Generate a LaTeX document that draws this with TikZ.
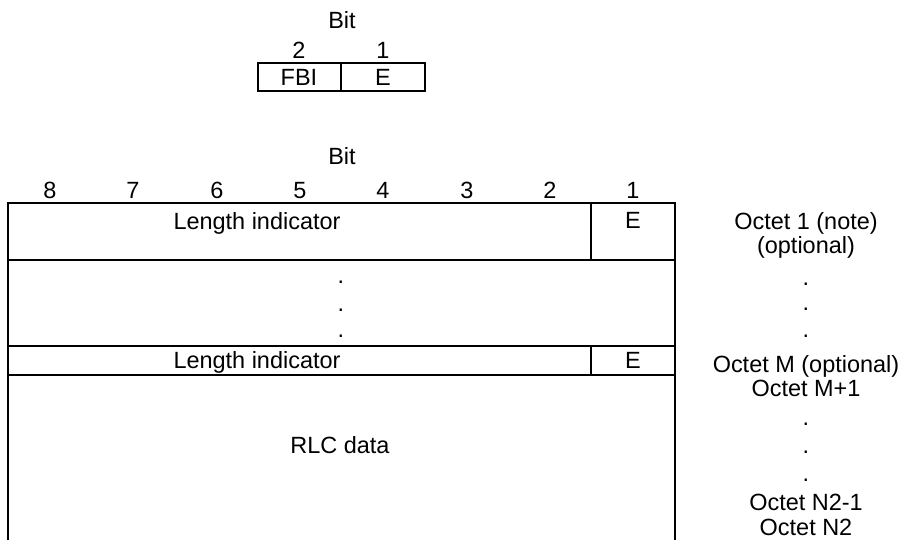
\documentclass[tikz,border=0pt]{standalone}
\usepackage{fontspec}
\setmainfont{Liberation Sans}
\tikzset{
  lbl/.style={font=\fontsize{17.6}{21}\selectfont, inner sep=0pt, text height=12.7pt, text depth=0pt},
  rule/.style={line width=1.5pt}
}
\begin{document}
\begin{tikzpicture}[x=0.75pt,y=0.75pt,yscale=-1,xscale=1]
\useasboundingbox (0,0) rectangle (904,540);
%Shape: Rectangle [small header]
\draw [rule]  (258,63) -- (425,63) -- (425,91) -- (258,91) -- cycle ;
%Straight Lines [small divider]
\draw [rule]  (341,63) -- (341,91) ;
% Text Node
\draw (342,20) node [lbl] (bitS) {Bit};
% Text Node
\draw (299,50) node [lbl] (bitS2) {2};
% Text Node
\draw (383,50) node [lbl] (bitS1) {1};
% Text Node
\draw (299,77) node [lbl] (fbi) {FBI};
% Text Node
\draw (383,77) node [lbl] (eS) {E};

%Shape: Open table [main]
\draw [rule]  (8,540) -- (8,203) -- (675,203) -- (675,540) ;
%Straight Lines [row rules]
\draw [rule]  (8,260) -- (675,260) ;
\draw [rule]  (8,346) -- (675,346) ;
\draw [rule]  (8,375) -- (675,375) ;
%Straight Lines [E column]
\draw [rule]  (591,203) -- (591,260) ;
\draw [rule]  (591,346) -- (591,375) ;

% Text Node
\draw (342,156) node [lbl] (bitM) {Bit};
% Text Node
\draw (50,190) node [lbl] (b8) {8};
\draw (133,190) node [lbl] (b7) {7};
\draw (217,190) node [lbl] (b6) {6};
\draw (300,190) node [lbl] (b5) {5};
\draw (383,190) node [lbl] (b4) {4};
\draw (467,190) node [lbl] (b3) {3};
\draw (550,190) node [lbl] (b2) {2};
\draw (633,190) node [lbl] (b1) {1};

% Text Node
\draw (257,221) node [lbl] (liA) {Length indicator};
\draw (633,220) node [lbl] (eA) {E};
% Text Node
\draw (341,275) node [lbl] (dotA) {.};
\draw (341,303) node [lbl] (dotB) {.};
\draw (341,329) node [lbl] (dotC) {.};
% Text Node
\draw (257,360) node [lbl] (liM) {Length indicator};
\draw (633,360) node [lbl] (eM) {E};
% Text Node
\draw (340,445) node [lbl] (rlc) {RLC data};

% Text Node [octet column]
\draw (806,221) node [lbl] (oct1) {Octet 1 (note)};
\draw (806,245) node [lbl] (opt1) {(optional)};
\draw (806,277) node [lbl] (odotA) {.};
\draw (806,302) node [lbl] (odotB) {.};
\draw (806,329) node [lbl] (odotC) {.};
\draw (806,364) node [lbl] (octM) {Octet M (optional)};
\draw (806,388) node [lbl] (octM1) {Octet M+1};
\draw (806,417) node [lbl] (odotD) {.};
\draw (806,445) node [lbl] (odotE) {.};
\draw (806,473) node [lbl] (odotF) {.};
\draw (806,502) node [lbl] (octN1) {Octet N2-1};
\draw (806,527) node [lbl] (octN) {Octet N2};
\end{tikzpicture}
\end{document}
